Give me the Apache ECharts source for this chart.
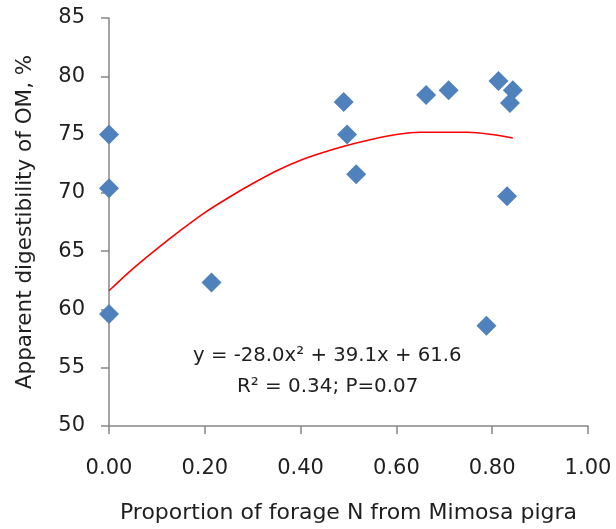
<!DOCTYPE html>
<html>
<head>
<meta charset="utf-8">
<script src="https://cdn.jsdelivr.net/npm/echarts@6/dist/echarts.min.js"></script>
<style>
html,body{margin:0;padding:0;background:#fff;}
#chart{width:616px;height:529px;}
</style>
</head>
<body>
<div id="chart"></div>
<script>
// Observed data points (proportion of forage N from Mimosa pigra, apparent digestibility of OM %)
var xValues = [0.00, 0.00, 0.00, 0.214, 0.490, 0.497, 0.516, 0.662, 0.709, 0.813, 0.843, 0.837, 0.831, 0.788];
var yValues = [75.0, 70.4, 59.6, 62.3, 77.8, 75.0, 71.6, 78.4, 78.8, 79.6, 78.8, 77.7, 69.7, 58.6];

// Trend line points
var trendX = [0.0, 0.05, 0.1, 0.15, 0.2, 0.25, 0.3, 0.35, 0.4, 0.45, 0.5, 0.55, 0.6, 0.65, 0.7, 0.75, 0.8, 0.843];
var trendY = [61.6, 63.5, 65.2, 66.8, 68.3, 69.6, 70.8, 71.9, 72.8, 73.5, 74.1, 74.6, 75.0, 75.2, 75.2, 75.2, 75.0, 74.7];

// Axis tick settings and texts
var xTicks = [0, 0.2, 0.4, 0.6, 0.8, 1.0];
var yTicks = [50, 55, 60, 65, 70, 75, 80, 85];
var xTitle = 'Proportion of forage N from Mimosa pigra';
var yTitle = 'Apparent digestibility of OM, %';
var eqLine1 = 'y = -28.0x² + 39.1x + 61.6';
var eqLine2 = 'R² = 0.34; P=0.07';

var FONT = 'DejaVu Sans';
var TXT = '#1f1f1f';
var AX = '#868686';

var scatterData = xValues.map(function(x, i){ return [x, yValues[i]]; });
var trendData = trendX.map(function(x, i){ return [x, trendY[i]]; });

var chart = echarts.init(document.getElementById('chart'), null, {renderer: 'canvas'});
chart.setOption({
  animation: false,
  backgroundColor: '#ffffff',
  grid: {left: 109, top: 18, right: 28, bottom: 102, containLabel: false},
  xAxis: {
    type: 'value', min: xTicks[0], max: xTicks[xTicks.length-1], interval: 0.2,
    name: xTitle, nameLocation: 'middle', nameGap: 76,
    nameTextStyle: {fontFamily: FONT, fontSize: 22, color: TXT},
    axisLine: {show: true, lineStyle: {color: AX, width: 1.5}},
    axisTick: {show: true, inside: false, length: 8, lineStyle: {color: AX, width: 1.5}},
    splitLine: {show: false},
    axisLabel: {margin: 32, fontFamily: FONT, fontSize: 21, color: TXT,
      formatter: function(v){ return v.toFixed(2); }}
  },
  yAxis: {
    type: 'value', min: yTicks[0], max: yTicks[yTicks.length-1], interval: 5,
    name: yTitle, nameLocation: 'middle', nameGap: 73, nameRotate: 90,
    nameTextStyle: {fontFamily: FONT, fontSize: 21.5, color: TXT},
    axisLine: {show: true, lineStyle: {color: AX, width: 1.5}},
    axisTick: {show: true, inside: false, length: 8, lineStyle: {color: AX, width: 1.5}},
    splitLine: {show: false},
    axisLabel: {margin: 24, fontFamily: FONT, fontSize: 21, color: TXT}
  },
  series: [
    {
      type: 'line', data: trendData, smooth: 0.3, showSymbol: false, symbol: 'none',
      lineStyle: {color: '#ff0000', width: 1.6}, z: 2
    },
    {
      type: 'scatter', data: scatterData, symbol: 'diamond', symbolSize: 20,
      itemStyle: {color: '#4f81bd', opacity: 1}, z: 3
    }
  ],
  graphic: [
    {type: 'text', left: 193, top: 346,
      style: {text: eqLine1, fontFamily: FONT, fontSize: 19.7, fill: TXT}},
    {type: 'text', left: 237, top: 377,
      style: {text: eqLine2, fontFamily: FONT, fontSize: 19.9, fill: TXT}}
  ]
});
</script>
</body>
</html>
